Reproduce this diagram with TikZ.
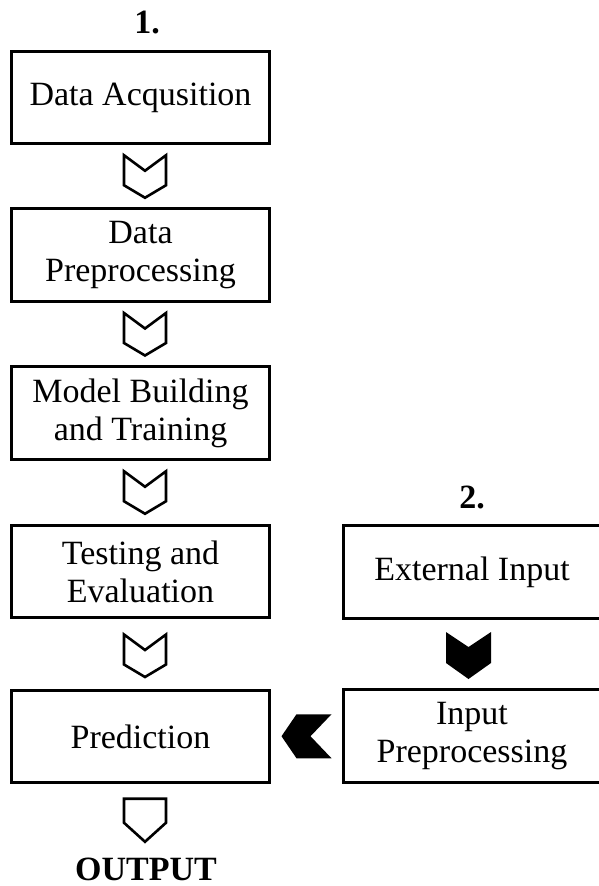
\documentclass[tikz,border=0pt]{standalone}
\usepackage{fontspec}
\setmainfont{Liberation Serif}
\usetikzlibrary{calc}
\tikzset{
  stage/.style={draw=black, line width=3pt, fill=white, minimum width=258pt, minimum height=92.5pt,
    align=center, inner sep=0pt, font=\fontsize{34}{38}\selectfont},
  rstage/.style={stage, minimum width=257pt},
  lbl/.style={font=\bfseries\fontsize{34}{38}\selectfont, anchor=base, inner sep=0pt},
  chevdown/.pic={\draw[line width=2.6pt, fill=white, line join=miter]
      (-21,-21) -- (0,-5.5) -- (21,-21) -- (21,9) -- (0,21.5) -- (-21,9) -- cycle;},
  chevdownfill/.pic={\fill[black]
      (-22.5,-23.5) -- (0,-8.5) -- (22.5,-23.5) -- (22.5,7.5) -- (0,23.5) -- (-22.5,7.5) -- cycle;},
  chevleftfill/.pic={\fill[black]
      (-25,0) -- (-10,-22) -- (25,-22) -- (4,0) -- (25,22) -- (-10,22) -- cycle;},
  pentdown/.pic={\draw[line width=2.6pt, fill=white, line join=miter]
      (-21,-21.5) -- (21,-21.5) -- (21,2.5) -- (0,21.5) -- (-21,2.5) -- cycle;}
}
\begin{document}
\begin{tikzpicture}[x=1pt, y=-1pt]
\useasboundingbox (0,0) rectangle (598,886);
\fill[white] (0,0) rectangle (598,886);
\node[stage] (b1) at (140.5,97.5) {Data Acqusition};
\node[stage] (b2) at (140.5,255) {Data\\Preprocessing};
\node[stage] (b3) at (140.5,413) {Model Building\\and Training};
\node[stage] (b4) at (140.5,571.5) {Testing and\\Evaluation};
\node[stage] (b5) at (140.5,736.5) {Prediction};
\node[rstage] (r1) at (472,572) {External Input};
\node[rstage] (r2) at (472,736) {Input\\Preprocessing};
\node[lbl] (n1) at (147,33) {1.};
\node[lbl] (n2) at (472,508) {2.};
\node[lbl] (out) at (146,880) {OUTPUT};
\path ($(b1.south)!0.5!(b2.north)+(4.5,0)$) pic {chevdown};
\path ($(b2.south)!0.5!(b3.north)+(4.5,0)$) pic {chevdown};
\path ($(b3.south)!0.5!(b4.north)+(4.5,0)$) pic {chevdown};
\path ($(b4.south)!0.5!(b5.north)+(4.5,1.5)$) pic {chevdown};
\path ($(r1.south)!0.5!(r2.north)+(-3.5,1.5)$) pic {chevdownfill};
\path ($(b5.east)!0.5!(r2.west)$) pic {chevleftfill};
\path ($(b5.south)+(4.5,36)$) pic {pentdown};
\end{tikzpicture}
\end{document}
